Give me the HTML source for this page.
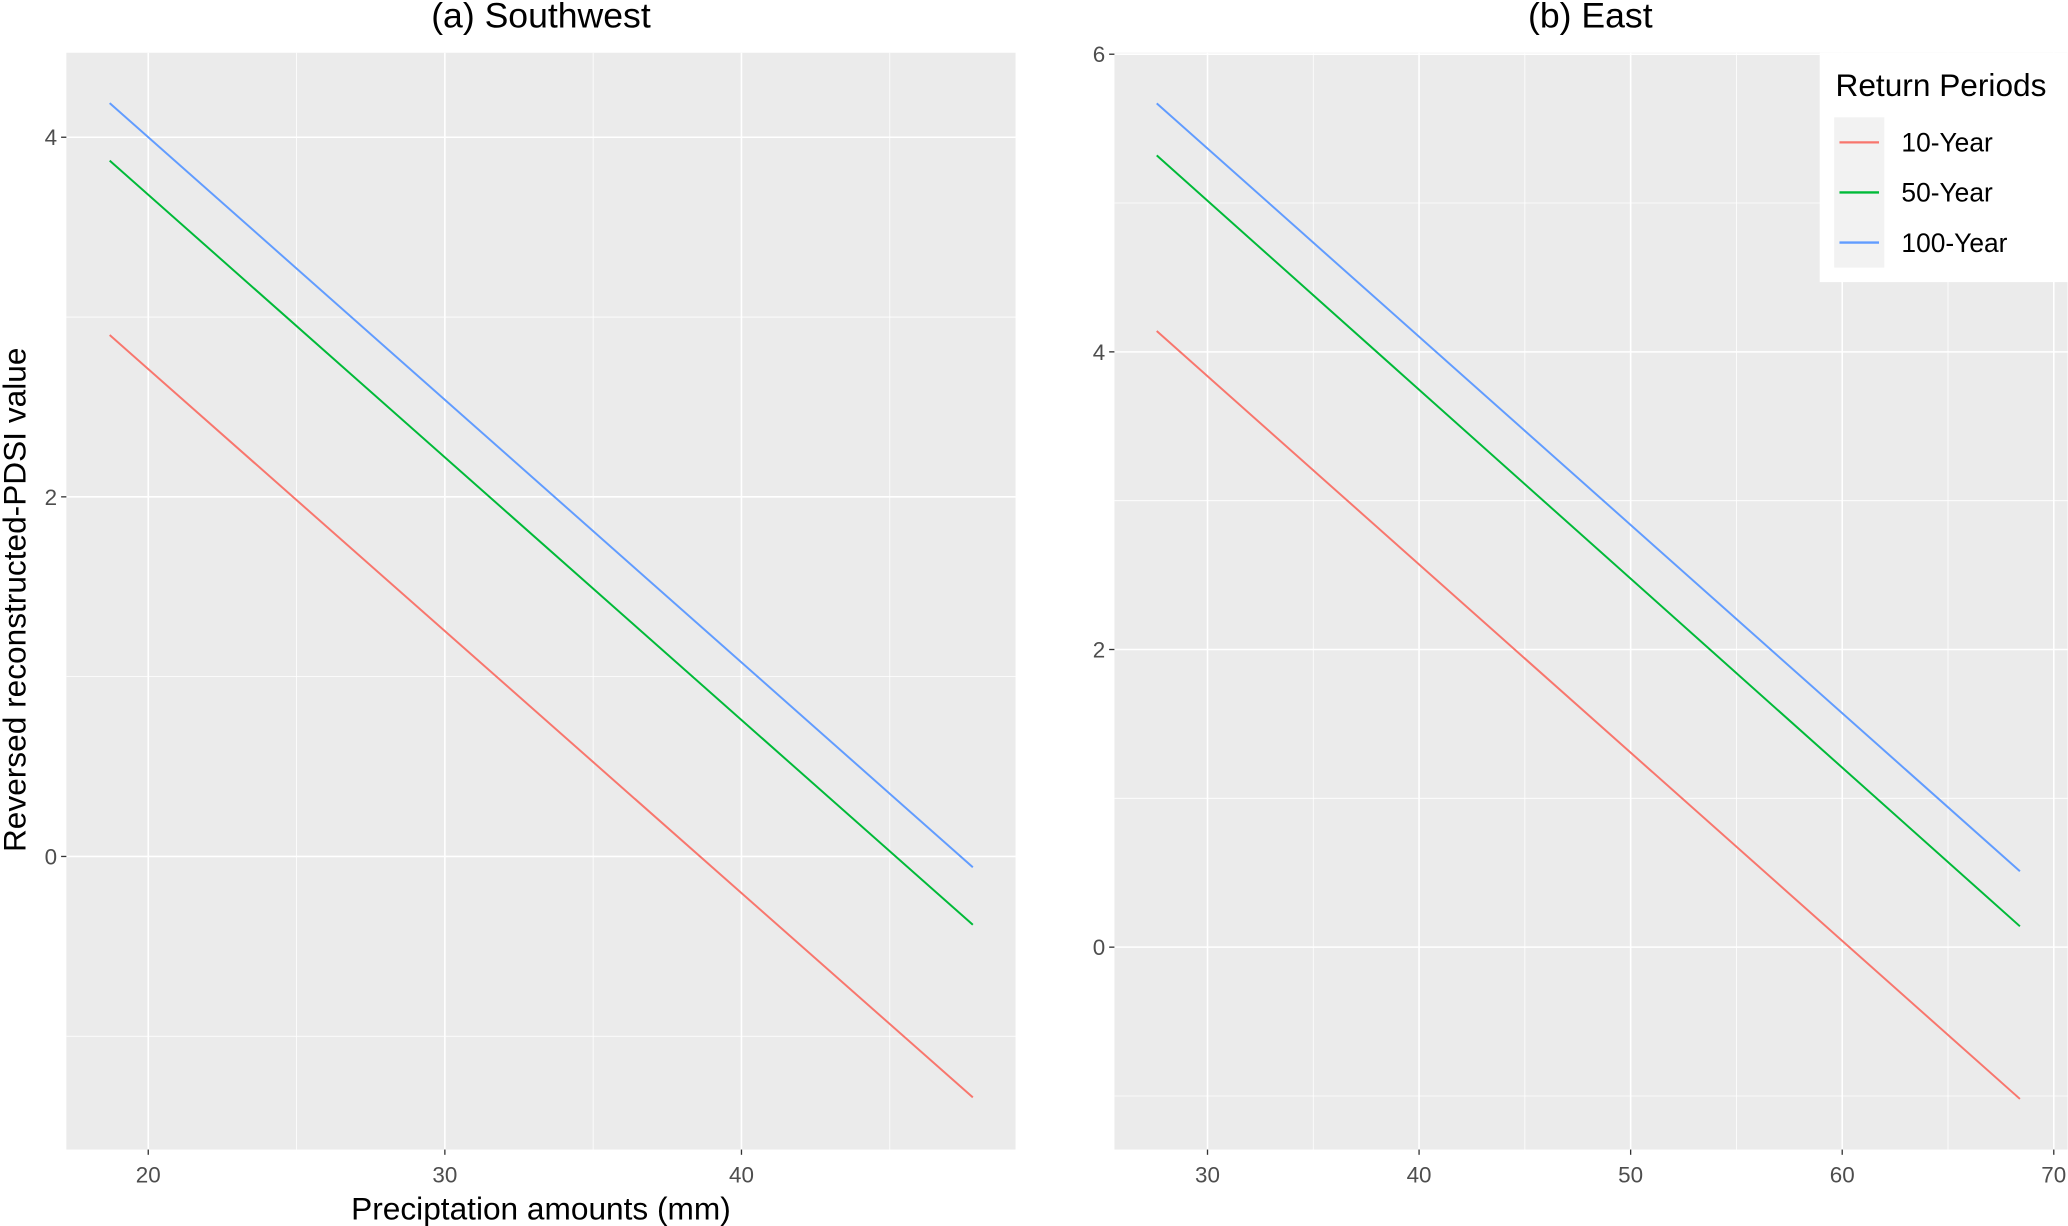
<!DOCTYPE html>
<html><head><meta charset="utf-8">
<style>html,body{margin:0;padding:0;background:#fff;}svg{display:block;}text{font-family:"Liberation Sans",Arial,sans-serif;}</style>
</head><body>
<svg id="chart" width="2068" height="1226" viewBox="0 0 1568 930" xmlns="http://www.w3.org/2000/svg">
<rect x="0" y="0" width="1568" height="930" fill="#fff"/>
<g id="panelA"></g>
<g id="panelB"></g>
<g id="legend"></g>
</svg>
<script>
const seriesNames = ["10-Year", "50-Year", "100-Year"];
const seriesColors = ["#F8766D", "#00BA38", "#619CFF"];
// Southwest
const swX = [18.7, 47.8];
const sw10 = [2.90, -1.34];
const sw50 = [3.87, -0.38];
const sw100 = [4.19, -0.06];
const swXTicks = [20, 30, 40];
const swYTicks = [0, 2, 4];
// East
const eX = [27.6, 68.4];
const e10 = [4.14, -1.02];
const e50 = [5.32, 0.14];
const e100 = [5.67, 0.51];
const eXTicks = [30, 40, 50, 60, 70];
const eYTicks = [0, 2, 4, 6];

const NS = "http://www.w3.org/2000/svg";
function mk(parent, tag, attrs, text) {
  const el = document.createElementNS(NS, tag);
  for (const k in attrs) el.setAttribute(k, attrs[k]);
  if (text !== undefined) el.textContent = text;
  parent.appendChild(el);
  return el;
}
function panel(g, cfg) {
  const {px0, px1, py0, py1, xmin, xmax, ymin, ymax, xs, ys, xt, yt, key} = cfg;
  const sx = v => px0 + (v - xmin) / (xmax - xmin) * (px1 - px0);
  const sy = v => py1 - (v - ymin) / (ymax - ymin) * (py1 - py0);
  const bg = mk(g, "rect", {x: px0, y: py0, width: px1 - px0, height: py1 - py0, fill: "#EBEBEB"});
  
  
  const xstep = xt[1] - xt[0], ystep = yt[1] - yt[0];
  for (let v = xt[0] - xstep / 2; v <= xmax; v += xstep) if (v >= xmin) {
    const l = mk(g, "line", {x1: sx(v), x2: sx(v), y1: py0, y2: py1, stroke: "#fff", "stroke-width": 0.6});
    
    
  }
  for (let v = yt[0] - ystep / 2; v <= ymax; v += ystep) if (v >= ymin) {
    const l = mk(g, "line", {x1: px0, x2: px1, y1: sy(v), y2: sy(v), stroke: "#fff", "stroke-width": 0.6});
    
    
  }
  xt.forEach(v => {
    const x = sx(v);
    const l = mk(g, "line", {x1: x, x2: x, y1: py0, y2: py1, stroke: "#fff", "stroke-width": 1.2});
    
    
    mk(g, "line", {x1: x, x2: x, y1: py1, y2: py1 + 4, stroke: "#333", "stroke-width": 1});
    const t = mk(g, "text", {x: x, y: py1 + 25, "text-anchor": "middle", "font-size": 17, fill: "#4D4D4D"}, String(v));
    
    
  });
  yt.forEach(v => {
    const y = sy(v);
    const l = mk(g, "line", {x1: px0, x2: px1, y1: y, y2: y, stroke: "#fff", "stroke-width": 1.2});
    
    
    mk(g, "line", {x1: px0 - 4, x2: px0, y1: y, y2: y, stroke: "#333", "stroke-width": 1});
    const t = mk(g, "text", {x: px0 - 7, y: y + 6, "text-anchor": "end", "font-size": 17, fill: "#4D4D4D"}, String(v));
    
    
  });
  ys.forEach((arr, i) => {
    const l = mk(g, "line", {x1: sx(xs[0]), y1: sy(arr[0]), x2: sx(xs[1]), y2: sy(arr[1]), stroke: seriesColors[i], "stroke-width": 1.5});
    
    
  });
}
const gA = document.getElementById("panelA");
panel(gA, {px0: 50, px1: 770, py0: 40, py1: 872, xmin: 17.24, xmax: 49.24, ymin: -1.63, ymax: 4.47,
  xs: swX, ys: [sw10, sw50, sw100], xt: swXTicks, yt: swYTicks, key: "southwest"});
const gB = document.getElementById("panelB");
panel(gB, {px0: 845, px1: 1568, py0: 40, py1: 872, xmin: 25.6, xmax: 70.65, ymin: -1.36, ymax: 6.01,
  xs: eX, ys: [e10, e50, e100], xt: eXTicks, yt: eYTicks, key: "east"});

let t;
t = mk(gA, "text", {x: 410, y: 21, "text-anchor": "middle", "font-size": 27, fill: "#000"}, "(a) Southwest");


t = mk(gB, "text", {x: 1206, y: 21, "text-anchor": "middle", "font-size": 27, fill: "#000"}, "(b) East");


t = mk(gA, "text", {x: 410, y: 925, "text-anchor": "middle", "font-size": 24, fill: "#000"}, "Preciptation amounts (mm)");


t = mk(gA, "text", {x: 0, y: 0, "text-anchor": "middle", "font-size": 24, fill: "#000", transform: "translate(19,455) rotate(-90)"}, "Reversed reconstructed-PDSI value");



const lg = document.getElementById("legend");
mk(lg, "rect", {x: 1380, y: 40, width: 188, height: 174, fill: "#fff"});
t = mk(lg, "text", {x: 1392, y: 73, "font-size": 24, fill: "#000"}, "Return Periods");


mk(lg, "rect", {x: 1391, y: 89, width: 38, height: 114, fill: "#F2F2F2"});
seriesNames.forEach((n, i) => {
  const y = 108 + i * 38;
  const l = mk(lg, "line", {x1: 1395, x2: 1425, y1: y, y2: y, stroke: seriesColors[i], "stroke-width": 1.8});
  
  
  const tx = mk(lg, "text", {x: 1442, y: y + 7, "font-size": 20, fill: "#000"}, n);
  
  
});
</script>
</body></html>
